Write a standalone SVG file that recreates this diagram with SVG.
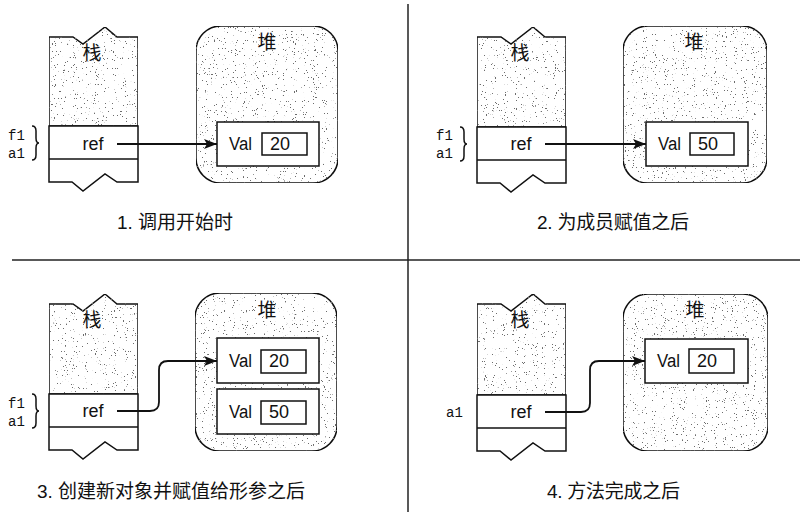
<svg xmlns="http://www.w3.org/2000/svg" width="806" height="527" viewBox="0 0 806 527">
<style>
.ln{fill:none;stroke:#111;stroke-width:1.5}
.box{fill:#fff;stroke:#111;stroke-width:1.5}
.stip{fill:#fff;stroke:#111;stroke-width:1.5;filter:url(#stipple)}
.t{font-family:"Liberation Sans","Noto Sans CJK SC",sans-serif;fill:#111}
.cjk{font-family:"Noto Sans CJK SC",sans-serif;fill:#111;font-size:19px}
.mono{font-family:"Liberation Mono","DejaVu Sans Mono",monospace;fill:#111;font-size:14px}
.ref{font-size:18px}
.cap{font-size:19px}
.conn{fill:none;stroke:#111;stroke-width:1.8}
</style>
<defs>
<filter id="stipple" x="0" y="0" width="1" height="1" filterUnits="objectBoundingBox">
<feTurbulence type="fractalNoise" baseFrequency="0.9 0.7" numOctaves="2" seed="7" result="n"/>
<feColorMatrix in="n" type="matrix" values="0 0 0 0 0.15  0 0 0 0 0.15  0 0 0 0 0.15  28 0 0 0 -19.3" result="dots"/>
<feComposite in="dots" in2="SourceAlpha" operator="in" result="d2"/>
<feMerge><feMergeNode in="SourceGraphic"/><feMergeNode in="d2"/></feMerge>
</filter>
<marker id="ah" markerUnits="userSpaceOnUse" markerWidth="14" markerHeight="12" refX="13" refY="5" orient="auto">
<path d="M0,0 L13,5 L0,10 L3,5 Z" fill="#111"/>
</marker>
</defs>

<!-- dividers -->
<g id="dividers">
<line x1="12" y1="260" x2="800" y2="260" stroke="#222" stroke-width="1.5"/>
<line x1="408" y1="4" x2="408" y2="512" stroke="#222" stroke-width="1.5"/>
</g>

<!-- Panel 1 -->
<g id="p1-stack">
<path class="stip" d="M49,37 H73 L83,44 L105,27 L117,37 H138 V126 H49 Z"/>
<path class="box" d="M49,126 H138 V182 H117 L105,174 L83,191 L72,182 H49 Z"/>
<line class="ln" x1="49" y1="159" x2="138" y2="159"/>
<text class="cjk" x="92" y="60" text-anchor="middle">栈</text>
<text class="t ref" x="93" y="150" text-anchor="middle">ref</text>
</g>
<g id="p1-labels">
<text class="mono" x="8" y="140">f1</text>
<text class="mono" x="8" y="158">a1</text>
<path class="ln" d="M32,126 Q36,126 36,131 V138 Q36,143 39,143 Q36,143 36,148 V155 Q36,160 32,160" stroke-width="1.2"/>
</g>
<g id="p1-heap">
<rect class="stip" x="196" y="26" width="142" height="157" rx="25"/>
<text class="cjk" x="267" y="49" text-anchor="middle">堆</text>
</g>
<g id="p1-val">
<rect class="box" x="217" y="122" width="102" height="44"/>
<text class="t ref" x="229" y="150" textLength="23" lengthAdjust="spacingAndGlyphs">Val</text>
<rect class="box" x="262" y="133" width="45" height="22"/>
<text class="t ref" x="270" y="150">20</text>
</g>
<text class="t cap" x="117" y="229">1. 调用开始时</text>

<!-- Panel 2 -->
<g id="p2-stack">
<path class="stip" d="M477,37 H501 L511,44 L533,27 L545,37 H566 V127 H477 Z"/>
<path class="box" d="M477,127 H566 V183 H545 L533,175 L511,192 L500,183 H477 Z"/>
<line class="ln" x1="477" y1="160" x2="566" y2="160"/>
<text class="cjk" x="520" y="60" text-anchor="middle">栈</text>
<text class="t ref" x="521" y="150" text-anchor="middle">ref</text>
</g>
<g id="p2-labels">
<text class="mono" x="436" y="140">f1</text>
<text class="mono" x="436" y="158">a1</text>
<path class="ln" d="M460,127 Q464,127 464,132 V139 Q464,144 467,144 Q464,144 464,149 V156 Q464,161 460,161" stroke-width="1.2"/>
</g>
<g id="p2-heap">
<rect class="stip" x="623" y="26" width="144" height="157" rx="25"/>
<text class="cjk" x="694" y="49" text-anchor="middle">堆</text>
</g>
<g id="p2-val">
<rect class="box" x="646" y="122" width="102" height="44"/>
<text class="t ref" x="658" y="150" textLength="23" lengthAdjust="spacingAndGlyphs">Val</text>
<rect class="box" x="690" y="133" width="44" height="22"/>
<text class="t ref" x="698" y="150">50</text>
</g>
<text class="t cap" x="537" y="229" textLength="152">2. 为成员赋值之后</text>

<!-- Panel 3 -->
<g id="p3-stack">
<path class="stip" d="M49,304 H73 L83,311 L105,294 L117,304 H138 V394 H49 Z"/>
<path class="box" d="M49,394 H138 V450 H117 L105,442 L83,459 L72,450 H49 Z"/>
<line class="ln" x1="49" y1="427" x2="138" y2="427"/>
<text class="cjk" x="92" y="327" text-anchor="middle">栈</text>
<text class="t ref" x="93" y="417" text-anchor="middle">ref</text>
</g>
<g id="p3-labels">
<text class="mono" x="8" y="408">f1</text>
<text class="mono" x="8" y="426">a1</text>
<path class="ln" d="M32,394 Q36,394 36,399 V406 Q36,411 39,411 Q36,411 36,416 V423 Q36,428 32,428" stroke-width="1.2"/>
</g>
<g id="p3-heap">
<rect class="stip" x="195" y="293" width="142" height="158" rx="25"/>
<text class="cjk" x="267" y="317" text-anchor="middle">堆</text>
</g>
<g id="p3-val1">
<rect class="box" x="217" y="338" width="102" height="45"/>
<text class="t ref" x="229" y="367" textLength="23" lengthAdjust="spacingAndGlyphs">Val</text>
<rect class="box" x="261" y="350" width="45" height="23"/>
<text class="t ref" x="269" y="367">20</text>
</g>
<g id="p3-val2">
<rect class="box" x="217" y="389" width="102" height="45"/>
<text class="t ref" x="229" y="418" textLength="23" lengthAdjust="spacingAndGlyphs">Val</text>
<rect class="box" x="261" y="401" width="45" height="23"/>
<text class="t ref" x="269" y="418">50</text>
</g>
<text class="t cap" x="37" y="498" textLength="268">3. 创建新对象并赋值给形参之后</text>

<!-- Panel 4 -->
<g id="p4-stack">
<path class="stip" d="M477,304 H501 L511,311 L533,294 L545,304 H566 V395 H477 Z"/>
<path class="box" d="M477,395 H566 V451 H545 L533,443 L511,460 L500,451 H477 Z"/>
<line class="ln" x1="477" y1="428" x2="566" y2="428"/>
<text class="cjk" x="520" y="327" text-anchor="middle">栈</text>
<text class="t ref" x="521" y="418" text-anchor="middle">ref</text>
</g>
<g id="p4-labels">
<text class="mono" x="446" y="417">a1</text>
</g>
<g id="p4-heap">
<rect class="stip" x="623" y="294" width="145" height="157" rx="25"/>
<text class="cjk" x="695" y="317" text-anchor="middle">堆</text>
</g>
<g id="p4-val">
<rect class="box" x="645" y="339" width="103" height="44"/>
<text class="t ref" x="657" y="367" textLength="23" lengthAdjust="spacingAndGlyphs">Val</text>
<rect class="box" x="689" y="349" width="45" height="24"/>
<text class="t ref" x="697" y="367">20</text>
</g>
<text class="t cap" x="547" y="498" textLength="133">4. 方法完成之后</text>

<!-- connectors -->
<g id="connectors">
<line class="conn" x1="117" y1="144" x2="217" y2="144" stroke-width="1.2" marker-end="url(#ah)"/>
<line class="conn" x1="545" y1="144" x2="646" y2="144" stroke-width="2.2" marker-end="url(#ah)"/>
<path class="conn" d="M117,411 H150 Q159,411 159,402 V370 Q159,361 168,361 H217" marker-end="url(#ah)"/>
<path class="conn" d="M545,412 H581 Q590,412 590,403 V370 Q590,361 599,361 H645" marker-end="url(#ah)"/>
</g>
</svg>
